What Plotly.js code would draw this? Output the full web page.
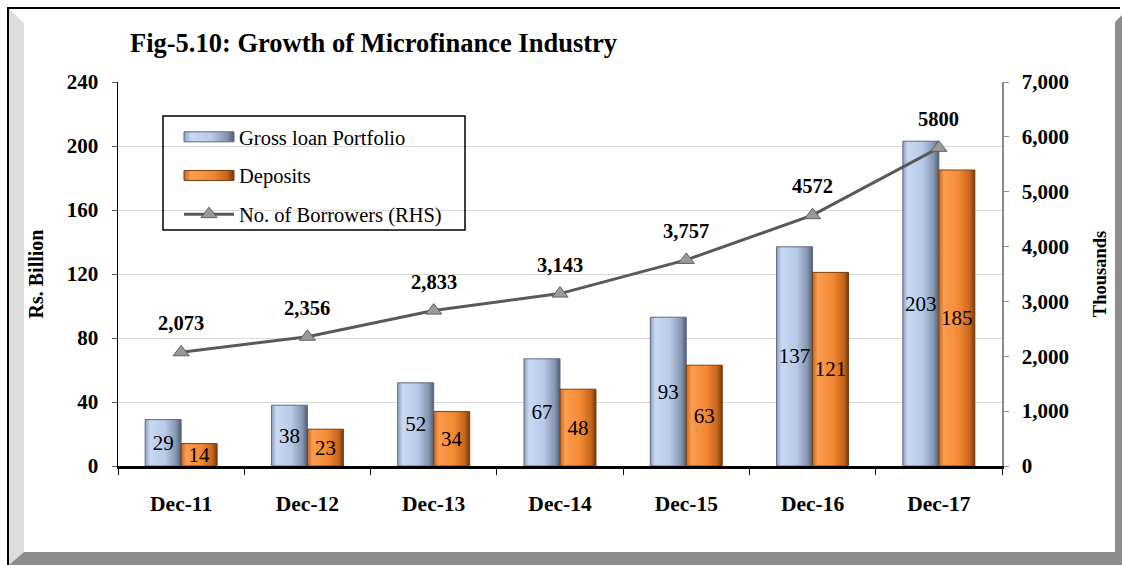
<!DOCTYPE html>
<html>
<head>
<meta charset="utf-8">
<script src="https://cdn.plot.ly/plotly-3.0.1.min.js"></script>
<style>
  html, body { margin: 0; padding: 0; background: #ffffff; }
  #chart { width: 1122px; height: 565px; }
</style>
</head>
<body>
<div id="chart"></div>
<script>
// ---- data ----
var categories = ["Dec-11", "Dec-12", "Dec-13", "Dec-14", "Dec-15", "Dec-16", "Dec-17"];
var grossLoan = [29, 38, 52, 67, 93, 137, 203];
var deposits = [14, 23, 34, 48, 63, 121, 185];
var borrowers = [2073, 2356, 2833, 3143, 3757, 4572, 5800];
var borrowerLabels = ["2,073", "2,356", "2,833", "3,143", "3,757", "4572", "5800"];
var leftTicks = [0, 40, 80, 120, 160, 200, 240];
var rightTicks = [0, 1000, 2000, 3000, 4000, 5000, 6000, 7000];

// ---- geometry helpers (pixel -> paper) ----
var W = 1122, H = 565;
var M = { l: 118, r: 120, t: 82, b: 99 };
var PW = W - M.l - M.r, PH = H - M.t - M.b;
function px(x) { return (x - M.l) / PW; }
function py(y) { return (H - M.b - y) / PH; }
function poly(pts) {
  return pts.map(function (p, i) { return (i ? "L" : "M") + px(p[0]) + "," + py(p[1]); }).join(" ") + " Z";
}

var serif = "Liberation Serif, Times New Roman, serif";

var traces = [
  {
    type: "bar", name: "Gross loan Portfolio", x: categories, y: grossLoan,
    text: grossLoan.map(String), textposition: "inside", insidetextanchor: "middle",
    constraintext: "none", textangle: 0,
    textfont: { family: serif, size: 21, color: "#000000" },
    marker: { color: "#b8cbe8", line: { color: "#5d6b82", width: 1 } },
    legendgroup: "a", hoverinfo: "skip"
  },
  {
    type: "bar", name: "Deposits", x: categories, y: deposits,
    text: deposits.map(String), textposition: "inside", insidetextanchor: "middle",
    constraintext: "none", textangle: 0,
    textfont: { family: serif, size: 21, color: "#000000" },
    marker: { color: "#f38a36", line: { color: "#7a3f10", width: 1 } },
    legendgroup: "b", hoverinfo: "skip"
  },
  {
    type: "scatter", mode: "lines+markers", name: "No. of Borrowers (RHS)",
    x: categories, y: borrowers, yaxis: "y2",
    line: { color: "#595959", width: 3 },
    marker: { symbol: "triangle-up", size: 14, color: "#9a9a9a", line: { color: "#5f5f5f", width: 1 } },
    legendgroup: "c", hoverinfo: "skip"
  }
];

var annotations = categories.map(function (c, i) {
  return {
    x: c, y: borrowers[i], xref: "x", yref: "y2", text: borrowerLabels[i],
    showarrow: false, yshift: 29, xanchor: "center", yanchor: "middle",
    font: { family: serif, size: 20.5, color: "#000000", weight: "bold" }
  };
});

var shapes = [
  // left light bevel
  { type: "path", xref: "paper", yref: "paper", layer: "above",
    path: poly([[9, 9], [24, 23], [24, 552], [9, 565]]),
    fillcolor: "#dcdcdc", line: { width: 0 } },
  // right + bottom dark bevel
  { type: "path", xref: "paper", yref: "paper", layer: "above",
    path: poly([[1115, 22], [1122, 15], [1122, 565], [9, 565], [24, 552], [1115, 552]]),
    fillcolor: "#8c8c8c", line: { width: 0 } },
  // black outer border top and left
  { type: "line", xref: "paper", yref: "paper", layer: "above",
    x0: px(7), x1: px(1120), y0: py(8), y1: py(8), line: { color: "#000000", width: 2 } },
  { type: "line", xref: "paper", yref: "paper", layer: "above",
    x0: px(8), x1: px(8), y0: py(7), y1: py(565), line: { color: "#000000", width: 2 } },
  // legend box
  { type: "rect", xref: "paper", yref: "paper", layer: "above",
    x0: px(163), x1: px(465), y0: py(116), y1: py(230),
    fillcolor: "rgba(0,0,0,0)", line: { color: "#000000", width: 1.5 } }
];

var layout = {
  width: W, height: H,
  margin: M,
  paper_bgcolor: "#ffffff", plot_bgcolor: "#ffffff",
  font: { family: serif, color: "#000000" },
  title: {
    text: "Fig-5.10: Growth of Microfinance Industry",
    font: { family: serif, size: 26.5, color: "#000000", weight: "bold" },
    x: 130 / W, xref: "container", xanchor: "left",
    y: 1 - 43 / H, yref: "container", yanchor: "middle"
  },
  barmode: "group", bargap: 0.43, bargroupgap: 0,
  showlegend: true,
  legend: {
    x: px(179), y: py(117), xanchor: "left", yanchor: "top",
    bgcolor: "rgba(0,0,0,0)", borderwidth: 0,
    font: { family: serif, size: 20.5, color: "#000000" },
    traceorder: "grouped", tracegroupgap: 9, itemwidth: 50
  },
  xaxis: {
    type: "category", showline: true, linecolor: "#000000", linewidth: 2.5,
    ticks: "outside", tickson: "boundaries", ticklen: 6, tickcolor: "#000000", tickwidth: 1,
    tickfont: { family: serif, size: 21.5, color: "#000000", weight: "bold" },
    ticklabelstandoff: 17, showgrid: false, zeroline: false, fixedrange: true
  },
  yaxis: {
    range: [0, 240], tickvals: leftTicks, ticktext: leftTicks.map(String),
    showline: true, linecolor: "#000000", linewidth: 1.5,
    ticks: "outside", ticklen: 5, tickcolor: "#595959", tickwidth: 1,
    tickfont: { family: serif, size: 21, color: "#000000", weight: "bold" },
    ticklabelstandoff: 9,
    showgrid: true, gridcolor: "#d9d9d9", gridwidth: 1, zeroline: false,
    title: { text: "Rs. Billion", font: { family: serif, size: 20, color: "#000000", weight: "bold" }, standoff: 18 },
    fixedrange: true
  },
  yaxis2: {
    range: [0, 7000], overlaying: "y", side: "right",
    tickvals: rightTicks, ticktext: rightTicks.map(function (v) { return v.toLocaleString("en-US"); }),
    showline: true, linecolor: "#8c8c8c", linewidth: 1.5,
    ticks: "outside", ticklen: 5, tickcolor: "#8c8c8c", tickwidth: 1,
    tickfont: { family: serif, size: 21, color: "#000000", weight: "bold" },
    ticklabelstandoff: 9,
    showgrid: false, zeroline: false,
    title: { text: "Thousands", font: { family: serif, size: 18.5, color: "#000000", weight: "bold" }, standoff: 25 },
    fixedrange: true
  },
  annotations: annotations,
  shapes: shapes
};

// bevel-like gradients applied to the rendered bars (cosmetic only)
function addGradients(gd) {
  var svg = gd.querySelector("svg.main-svg");
  if (!svg) return;
  var ns = "http://www.w3.org/2000/svg";
  var defs = svg.querySelector("defs") || svg.insertBefore(document.createElementNS(ns, "defs"), svg.firstChild);
  function grad(id, stops) {
    var g = document.createElementNS(ns, "linearGradient");
    g.setAttribute("id", id);
    g.setAttribute("x1", "0"); g.setAttribute("y1", "0");
    g.setAttribute("x2", "1"); g.setAttribute("y2", "0");
    stops.forEach(function (s) {
      var st = document.createElementNS(ns, "stop");
      st.setAttribute("offset", s[0]);
      st.setAttribute("stop-color", s[1]);
      g.appendChild(st);
    });
    defs.appendChild(g);
  }
  grad("gBlue", [["0", "#8e9fbd"], ["0.14", "#c9d9f2"], ["0.55", "#b7cae8"], ["0.86", "#8595b0"], ["1", "#4f5b72"]]);
  grad("gOrange", [["0", "#c4661f"], ["0.14", "#fb9d50"], ["0.55", "#f58a34"], ["0.86", "#c8661c"], ["1", "#6e3a10"]]);
  var bars = gd.querySelectorAll(".barlayer .trace");
  if (bars[0]) bars[0].querySelectorAll("path").forEach(function (p) { p.style.fill = "url(#gBlue)"; });
  if (bars[1]) bars[1].querySelectorAll("path").forEach(function (p) { p.style.fill = "url(#gOrange)"; });
  var leg = gd.querySelectorAll(".legend .traces");
  var fills = ["url(#gBlue)", "url(#gOrange)"];
  leg.forEach(function (t, i) {
    var p = t.querySelector("path.legendbar, .legendpoints path");
    if (p && i < 2) {
      p.setAttribute("d", "M25,5H-25V-5H25Z");
      p.style.fill = fills[i];
    }
  });
}

Plotly.newPlot("chart", traces, layout, { displayModeBar: false, staticPlot: true }).then(addGradients);
</script>
</body>
</html>
